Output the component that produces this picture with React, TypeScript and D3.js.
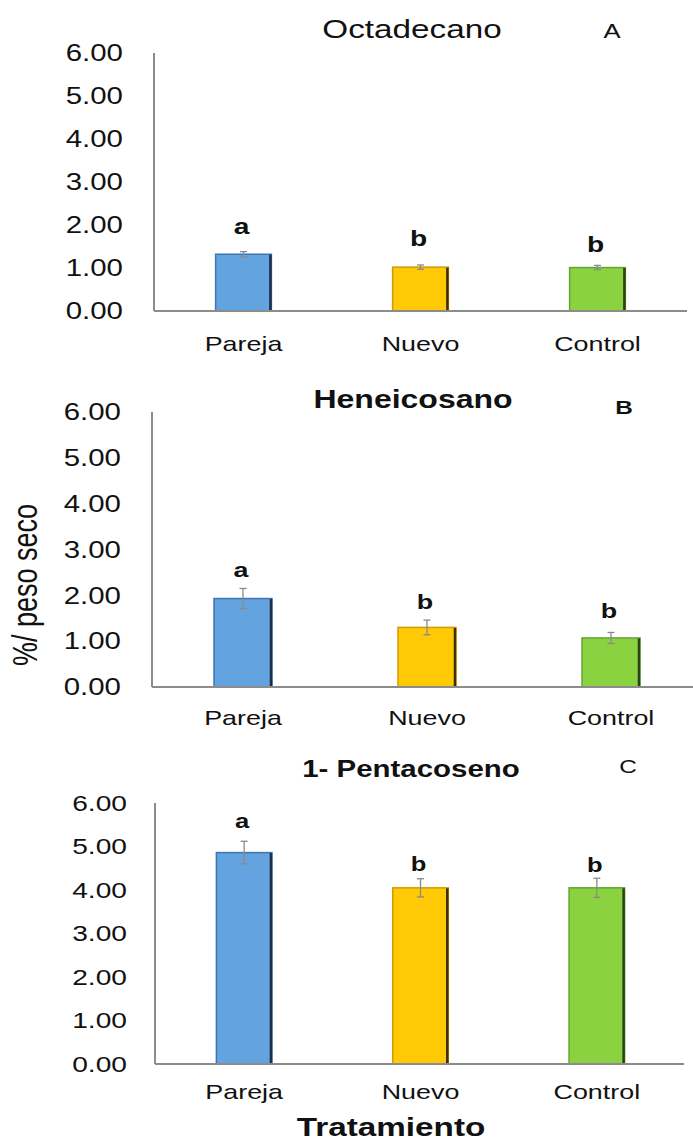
import React from 'react';
import * as d3 from 'd3';

// Treatments shared by all three panels
const categories = ['Pareja', 'Nuevo', 'Control'];

// Mean % of dry weight and standard error for each compound
const octadecanoMeans = [1.32, 1.02, 1.01];
const octadecanoErrors = [0.06, 0.05, 0.05];
const octadecanoLetters = ['a', 'b', 'b'];

const heneicosanoMeans = [1.93, 1.3, 1.07];
const heneicosanoErrors = [0.22, 0.16, 0.12];
const heneicosanoLetters = ['a', 'b', 'b'];

const pentacosenoMeans = [4.86, 4.05, 4.05];
const pentacosenoErrors = [0.26, 0.21, 0.22];
const pentacosenoLetters = ['a', 'b', 'b'];

const yTicks = [0, 1, 2, 3, 4, 5, 6];
const yMax = 6;

const barFills = ['#63A4E0', '#FFC906', '#8AD23F'];
const barEdges = ['#3E74B0', '#D39A00', '#64A532'];
const barShadows = ['#1E2F45', '#3E3000', '#2A4118'];

const FONT = "'Liberation Sans', Arial, Helvetica, sans-serif";
const SX = 1.28; // text is drawn horizontally widened

type STextProps = {
  x: number;
  y: number;
  size: number;
  anchor?: 'start' | 'middle' | 'end';
  weight?: string;
  rotate?: number;
  dy?: string;
  children: React.ReactNode;
};

function SText({ x, y, size, anchor = 'middle', weight = 'normal', rotate = 0, dy, children }: STextProps) {
  const t = `translate(${x},${y}) scale(${SX},1)` + (rotate ? ` rotate(${rotate})` : '');
  return (
    <text
      transform={t}
      textAnchor={anchor}
      fontSize={size}
      fontWeight={weight}
      fontFamily={FONT}
      fill="#111"
      dy={dy}
    >
      {children}
    </text>
  );
}

type Panel = {
  title: string;
  tag: string;
  means: number[];
  errors: number[];
  letters: string[];
  top: number;
  base: number;
  axisX: number;
  band: [number, number];
  axisEnd: number;
  tickRight: number;
  tickSize: number;
  title_: { x: number; y: number; size: number; weight: string };
  tag_: { x: number; y: number; size: number; weight: string };
  catY: number;
  catSize: number;
  letterSize: number;
  letterGaps: number[];
};

const panels: Panel[] = [
  {
    title: 'Octadecano',
    tag: 'A',
    means: octadecanoMeans,
    errors: octadecanoErrors,
    letters: octadecanoLetters,
    top: 53,
    base: 311,
    axisX: 154,
    band: [155, 686],
    axisEnd: 687,
    tickRight: 123,
    tickSize: 23,
    title_: { x: 412, y: 38, size: 26, weight: 'normal' },
    tag_: { x: 612, y: 38, size: 20, weight: 'normal' },
    catY: 351,
    catSize: 21,
    letterSize: 22,
    letterGaps: [18, 19, 13],
  },
  {
    title: 'Heneicosano',
    tag: 'B',
    means: heneicosanoMeans,
    errors: heneicosanoErrors,
    letters: heneicosanoLetters,
    top: 412,
    base: 687,
    axisX: 152,
    band: [151, 703],
    axisEnd: 693,
    tickRight: 121,
    tickSize: 23,
    title_: { x: 413, y: 408, size: 25, weight: 'bold' },
    tag_: { x: 624, y: 414, size: 19, weight: 'bold' },
    catY: 725,
    catSize: 21,
    letterSize: 21,
    letterGaps: [11, 11, 14],
  },
  {
    title: '1- Pentacoseno',
    tag: 'C',
    means: pentacosenoMeans,
    errors: pentacosenoErrors,
    letters: pentacosenoLetters,
    top: 803,
    base: 1064,
    axisX: 155,
    band: [156, 685],
    axisEnd: 684,
    tickRight: 127,
    tickSize: 22,
    title_: { x: 411, y: 777, size: 23, weight: 'bold' },
    tag_: { x: 628, y: 773, size: 19, weight: 'normal' },
    catY: 1099,
    catSize: 21,
    letterSize: 20,
    letterGaps: [13, 8, 6],
  },
];

function BarPanel({ p }: { p: Panel }) {
  const y = d3.scaleLinear().domain([0, yMax]).range([p.base, p.top]);
  const x = d3.scaleBand<string>().domain(categories).range(p.band).paddingInner(0.685).paddingOuter(0.3425);
  const bw = x.bandwidth();
  const axisColor = '#8C8C8C';
  const capHalf = 3.5;

  return (
    <g>
      {/* y axis line and tick labels */}
      <line x1={p.axisX} x2={p.axisX} y1={p.top} y2={p.base} stroke={axisColor} strokeWidth={2} />
      {yTicks.map((t) => (
        <SText key={t} x={p.tickRight} y={y(t)} size={p.tickSize} anchor="end" dy="0.36em">
          {d3.format('.2f')(t)}
        </SText>
      ))}

      {/* bars */}
      {categories.map((c, i) => {
        const x0 = x(c)!;
        const yTop = y(p.means[i]);
        const h = p.base - yTop;
        return (
          <g key={c}>
            <rect x={x0} y={yTop} width={bw} height={h} fill={barFills[i]} stroke={barEdges[i]} strokeWidth={1.5} />
            <line x1={x0 + bw - 1} x2={x0 + bw - 1} y1={yTop + 0.5} y2={p.base} stroke={barShadows[i]} strokeWidth={2.5} />
          </g>
        );
      })}

      {/* x axis line */}
      <line x1={p.axisX} x2={p.axisEnd} y1={p.base} y2={p.base} stroke={axisColor} strokeWidth={2} />

      {/* error bars */}
      {categories.map((c, i) => {
        const cx = x(c)! + bw / 2;
        const hi = y(p.means[i] + p.errors[i]);
        const lo = y(p.means[i] - p.errors[i]);
        return (
          <g key={c} stroke="#8A8A8A" strokeWidth={1.3}>
            <line x1={cx} x2={cx} y1={hi} y2={lo} />
            <line x1={cx - capHalf} x2={cx + capHalf} y1={hi} y2={hi} />
            <line x1={cx - capHalf} x2={cx + capHalf} y1={lo} y2={lo} />
          </g>
        );
      })}

      {/* significance letters */}
      {categories.map((c, i) => {
        const cx = x(c)! + bw / 2 - 2;
        const hi = y(p.means[i] + p.errors[i]);
        return (
          <SText key={c} x={cx} y={hi - p.letterGaps[i]} size={p.letterSize} weight="bold">
            {p.letters[i]}
          </SText>
        );
      })}

      {/* category labels */}
      {categories.map((c) => (
        <SText key={c} x={x(c)! + bw / 2} y={p.catY} size={p.catSize}>
          {c}
        </SText>
      ))}

      {/* title and panel tag */}
      <SText x={p.title_.x} y={p.title_.y} size={p.title_.size} weight={p.title_.weight}>
        {p.title}
      </SText>
      <SText x={p.tag_.x} y={p.tag_.y} size={p.tag_.size} weight={p.tag_.weight}>
        {p.tag}
      </SText>
    </g>
  );
}

export default function App() {
  return (
    <svg
      width={693}
      height={1142}
      viewBox="0 0 693 1142"
      style={{ position: 'absolute', left: 0, top: 0, background: '#fff' }}
    >
      <rect x={0} y={0} width={693} height={1142} fill="#fff" />
      {panels.map((p) => (
        <BarPanel key={p.tag} p={p} />
      ))}
      <SText x={37} y={585} size={27} rotate={-90}>
        %/ peso seco
      </SText>
      <SText x={391} y={1136} size={26} weight="bold">
        Tratamiento
      </SText>
    </svg>
  );
}
